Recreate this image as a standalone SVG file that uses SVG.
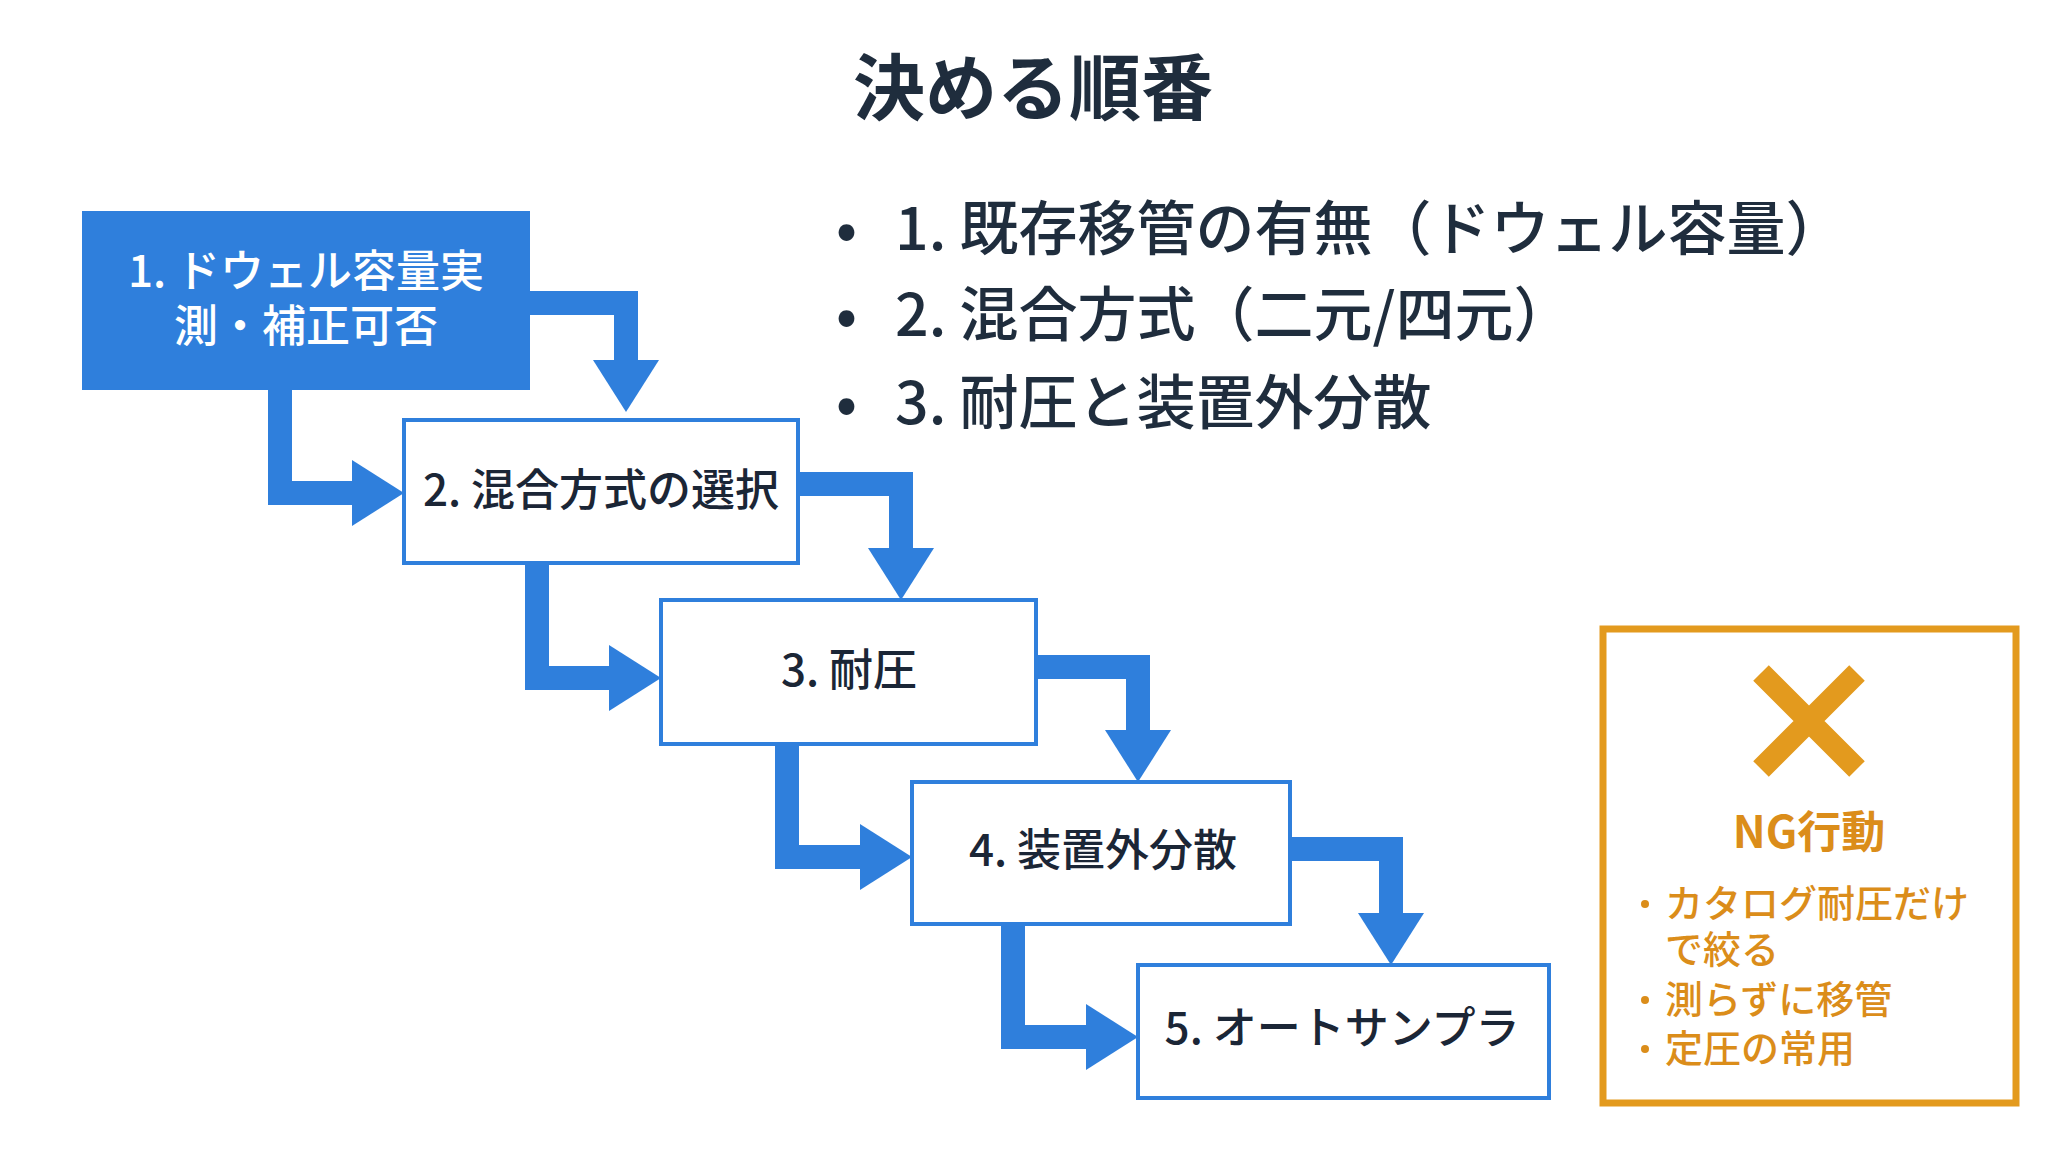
<svg xmlns="http://www.w3.org/2000/svg" width="2064" height="1152" viewBox="0 0 2064 1152">
<style>
text{font-family:"Noto Sans CJK JP","Noto Sans",sans-serif}
.box{fill:#fff;stroke:#2f7fdc;stroke-width:4}
.bt{font-size:44px;fill:#1b2636;text-anchor:middle;font-weight:500}
.bl{font-size:59px;fill:#1f2d3d;font-weight:500}
.conn{fill:none;stroke:#2f7fdc;stroke-width:24}
.head{fill:#2f7fdc}
.ng{fill:#db8d1a;font-size:38px;font-weight:500}
.dot{fill:#db8d1a}
</style>
<rect width="2064" height="1152" fill="#fff"/>
<text x="1033" y="114" text-anchor="middle" font-size="72" font-weight="700" fill="#1f2d3d">決める順番</text>
<g id="bullets">
<text class="bl" x="836" y="250">•</text><text class="bl" x="895" y="250">1. 既存移管の有無（ドウェル容量）</text>
<text class="bl" x="836" y="336">•</text><text class="bl" x="895" y="336">2. 混合方式（二元/四元）</text>
<text class="bl" x="836" y="424">•</text><text class="bl" x="895" y="424">3. 耐圧と装置外分散</text>
</g>
<g id="connectors">
<polyline class="conn" points="530,303 626,303 626,362"/><polygon class="head" points="593,360 659,360 626,412"/>
<polyline class="conn" points="280,390 280,493 354,493"/><polygon class="head" points="352,460 352,526 404,493"/>
<polyline class="conn" points="798,484 901,484 901,550"/><polygon class="head" points="868,548 934,548 901,600"/>
<polyline class="conn" points="537,563 537,678 611,678"/><polygon class="head" points="609,645 609,711 661,678"/>
<polyline class="conn" points="1036,667 1138,667 1138,732"/><polygon class="head" points="1105,730 1171,730 1138,782"/>
<polyline class="conn" points="787,744 787,857 862,857"/><polygon class="head" points="860,824 860,890 912,857"/>
<polyline class="conn" points="1290,849 1391,849 1391,915"/><polygon class="head" points="1358,913 1424,913 1391,965"/>
<polyline class="conn" points="1013,924 1013,1037 1088,1037"/><polygon class="head" points="1086,1004 1086,1070 1138,1037"/>
</g>
<g id="n1"><rect x="82" y="211" width="448" height="179" fill="#2f7fdc"/>
<text class="bt" x="306" y="287" style="fill:#fff" font-size="46">1. ドウェル容量実</text>
<text class="bt" x="306" y="342" style="fill:#fff">測・補正可否</text></g>
<g id="n2"><rect class="box" x="404" y="420" width="394" height="143"/><text class="bt" x="601" y="506">2. 混合方式の選択</text></g>
<g id="n3"><rect class="box" x="661" y="600" width="375" height="144"/><text class="bt" x="849" y="686">3. 耐圧</text></g>
<g id="n4"><rect class="box" x="912" y="782" width="378" height="142"/><text class="bt" x="1103" y="866">4. 装置外分散</text></g>
<g id="n5"><rect class="box" x="1138" y="965" width="411" height="133"/><text class="bt" x="1342" y="1044">5. オートサンプラ</text></g>
<g id="ng">
<rect x="1603" y="629" width="413" height="474" fill="#fff" stroke="#e39a1e" stroke-width="7"/>
<path d="M1761 673 L1857 769 M1857 673 L1761 769" stroke="#e39a1e" stroke-width="22"/>
<text x="1809" y="848" text-anchor="middle" font-size="44" font-weight="700" fill="#db8d1a">NG行動</text>
<circle class="dot" cx="1645" cy="904" r="4"/><text class="ng" x="1665" y="917">カタログ耐圧だけ</text>
<text class="ng" x="1665" y="963">で絞る</text>
<circle class="dot" cx="1645" cy="1000" r="4"/><text class="ng" x="1665" y="1013">測らずに移管</text>
<circle class="dot" cx="1645" cy="1049" r="4"/><text class="ng" x="1665" y="1062">定圧の常用</text>
</g>
</svg>
